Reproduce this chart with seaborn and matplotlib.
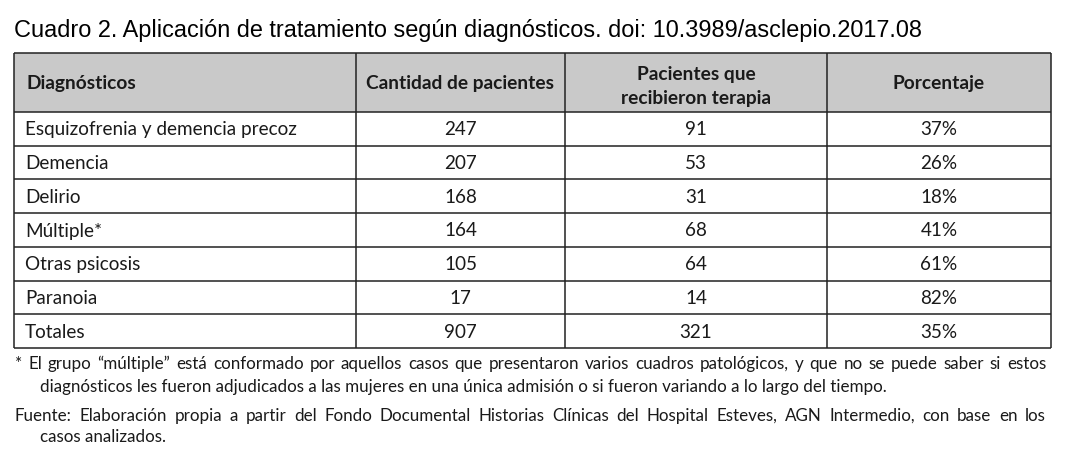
import pandas as pd
import matplotlib
matplotlib.use("Agg")
import matplotlib.pyplot as plt
import seaborn as sns
from matplotlib.patches import Rectangle

# datos del cuadro
diagnosticos = [
    "Esquizofrenia y demencia precoz",
    "Demencia",
    "Delirio",
    "Múltiple*",
    "Otras psicosis",
    "Paranoia",
    "Totales",
]
cantidad = [247, 207, 168, 164, 105, 17, 907]
terapia = [91, 53, 31, 68, 64, 14, 321]
porcentaje = [37, 26, 18, 41, 61, 82, 35]

encabezados = [
    "Diagnósticos",
    "Cantidad de pacientes",
    "Pacientes que\nrecibieron terapia",
    "Porcentaje",
]

titulo = "Cuadro 2. Aplicación de tratamiento según diagnósticos. doi: 10.3989/asclepio.2017.08"
nota_1 = ("* El grupo “múltiple” está conformado por aquellos casos que presentaron "
          "varios cuadros patológicos, y que no se puede saber si estos")
nota_2 = ("diagnósticos les fueron adjudicados a las mujeres en una única admisión "
          "o si fueron variando a lo largo del tiempo.")
fuente_1 = ("Fuente: Elaboración propia a partir del Fondo Documental Historias "
            "Clínicas del Hospital Esteves, AGN Intermedio, con base en los")
fuente_2 = "casos analizados."

df = pd.DataFrame({
    "diag": diagnosticos,
    "cant": cantidad,
    "ter": terapia,
    "pct": [f"{p}%" for p in porcentaje],
})

sns.set_theme(style="white")
plt.rcParams["font.family"] = ["Lato", "DejaVu Sans"]

fig = plt.figure(figsize=(10.69, 4.58), dpi=100)
ax = fig.add_axes([0, 0, 1, 1])
ax.set_xlim(0, 1069)
ax.set_ylim(458, 0)
ax.axis("off")
renderer = fig.canvas.get_renderer()

txt_color = "#1a1a1a"
line_color = "#222222"


def fit_size(text, target, **kw):
    t = ax.text(0, 0, text, fontsize=10, **kw)
    w = t.get_window_extent(renderer).width
    t.remove()
    return 10 * target / w


def justify(text, x0, x1, y, **kw):
    words = text.split()
    items = []
    total = 0
    for w in words:
        t = ax.text(x0, y, w, va="baseline", ha="left", **kw)
        width = t.get_window_extent(renderer).width
        items.append((t, width))
        total += width
    gap = (x1 - x0 - total) / (len(words) - 1)
    x = x0
    for t, width in items:
        t.set_x(x)
        x += width + gap


# tamaños de letra
size_title = fit_size(titulo, 907, family=["Liberation Sans", "DejaVu Sans"])
size_body = fit_size(diagnosticos[0], 272)
size_head = fit_size("recibieron terapia", 151, fontweight="bold")
size_note = fit_size(nota_2, 847)

# título
ax.text(14, 37, titulo, fontsize=size_title, color="#000000",
        family=["Liberation Sans", "DejaVu Sans"], va="baseline", ha="left")

# geometría de la tabla
col_x = [14, 356, 565, 827, 1051]
top = 53
head_bottom = 112
bottom = 348
row_h = (bottom - head_bottom) / len(df)

ax.add_patch(Rectangle((col_x[0], top), col_x[-1] - col_x[0], head_bottom - top,
                       facecolor="#c9c9c9", edgecolor="none", zorder=0))

# encabezados
head_mid = (top + head_bottom) / 2
for j, h in enumerate(encabezados):
    if j == 0:
        x, ha = col_x[0] + 12, "left"
    else:
        x, ha = (col_x[j] + col_x[j + 1]) / 2, "center"
    if "\n" in h:
        l1, l2 = h.split("\n")
        ax.text(x, 80, l1, fontsize=size_head, fontweight="bold", color=txt_color,
                ha=ha, va="baseline")
        ax.text(x, 104, l2, fontsize=size_head, fontweight="bold", color=txt_color,
                ha=ha, va="baseline")
    else:
        ax.text(x, head_mid + 6.5, h, fontsize=size_head, fontweight="bold",
                color=txt_color, ha=ha, va="baseline")

# filas
for i, row in df.iterrows():
    yb = head_bottom + row_h * (i + 0.5) + 6.5
    ax.text(col_x[0] + 11, yb, row["diag"], fontsize=size_body, color=txt_color,
            ha="left", va="baseline")
    for j, key in enumerate(["cant", "ter", "pct"], start=1):
        ax.text((col_x[j] + col_x[j + 1]) / 2, yb, str(row[key]), fontsize=size_body,
                color=txt_color, ha="center", va="baseline")

# líneas
ys = [top, head_bottom] + [head_bottom + row_h * (i + 1) for i in range(len(df))]
ax.hlines(ys, col_x[0], col_x[-1], color=line_color, lw=1.1)
ax.vlines(col_x, top, bottom, color=line_color, lw=1.1)

# notas al pie
justify(nota_1, 15, 1046, 369, fontsize=size_note, color=txt_color)
ax.text(40, 392, nota_2, fontsize=size_note, color=txt_color, ha="left", va="baseline")
justify(fuente_1, 15, 1046, 421, fontsize=size_note, color=txt_color)
ax.text(40, 442, fuente_2, fontsize=size_note, color=txt_color, ha="left", va="baseline")

fig.savefig("out.png", dpi=100, facecolor="white")
plt.close(fig)
